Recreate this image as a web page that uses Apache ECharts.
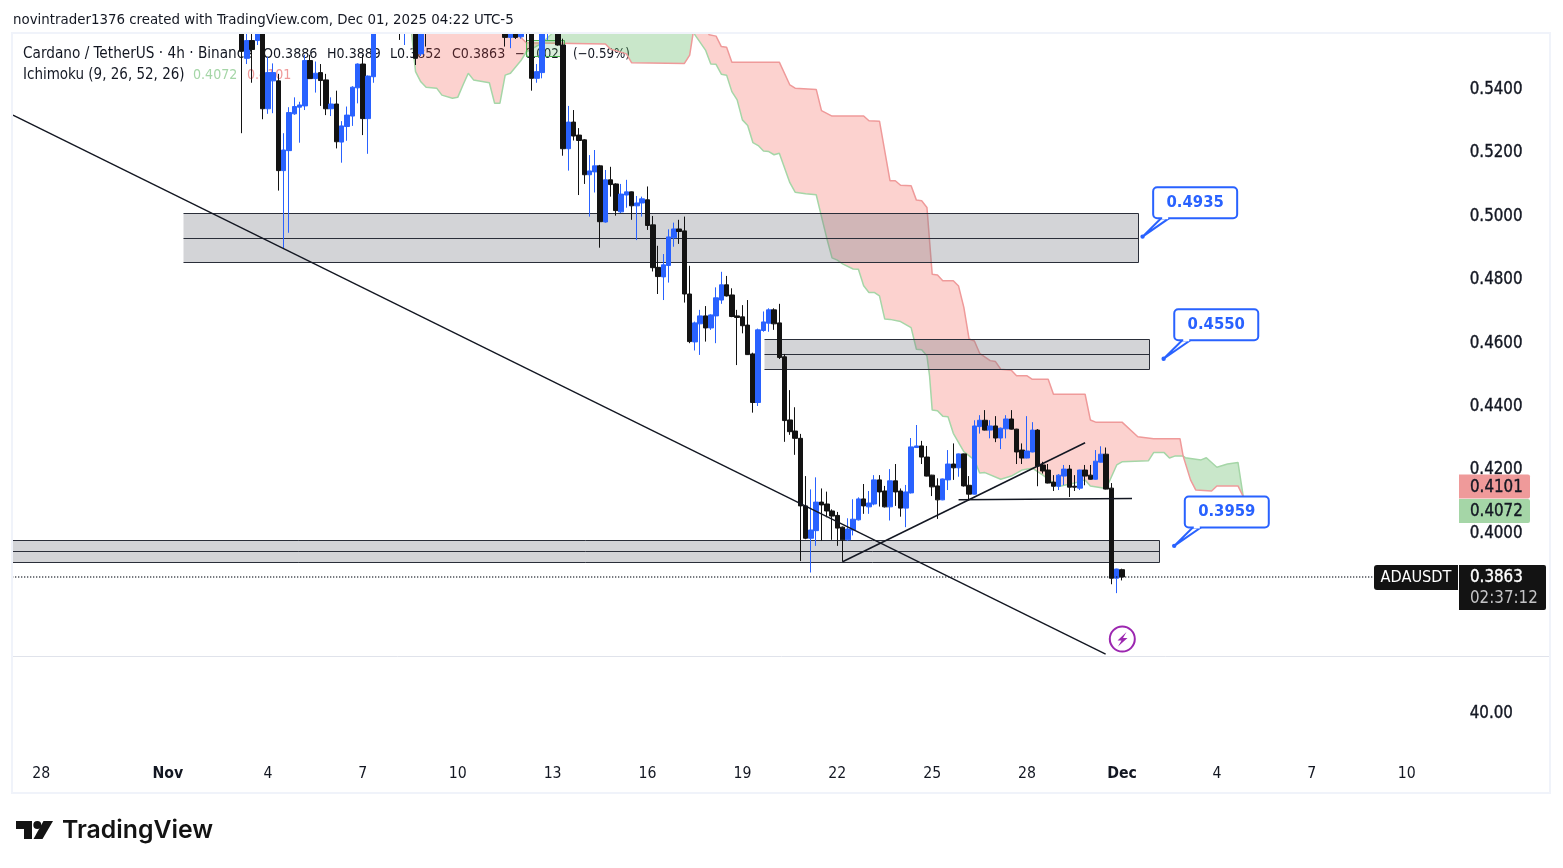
<!DOCTYPE html>
<html><head><meta charset="utf-8">
<style>html,body{margin:0;padding:0;background:#fff}#c{width:1563px;height:868px}</style>
<script src="https://cdn.jsdelivr.net/npm/echarts@6/dist/echarts.min.js"></script></head>
<body><div id="c"></div>
<script>
const firstSlot = 43;
const opens = [.5660,.5498,.5554,.5554,.5640,.5339,.5427,.5427,.5144,.5207,.5323,.5344,.5348,.5491,.5434,.5453,.5430,.5339,.5354,.5234,.5283,.5316,.5405,.5480,.5308,.5440,
.5640,.5720,.5680,.5750,.5700,.5640,.5680,.5700,.5512,.5650,.5610,.5660,.5720,.5680,.5740,.5700,.5650,.5690,.5750,.5710,.5660,.5700,.5650,.5620,.5650,.5564,.5620,.5566,.5600,.5590,.5435,.5453,.5600,.5640,.5610,.5540,
.5213,.5297,.5256,.5241,.5131,.5140,.5159,.4982,.5115,.5102,.5014,.5067,.5077,.5033,.5042,.5052,.4973,.4839,.4809,.4845,.4932,.4960,.4954,.4755,.4604,.4661,.4686,.4648,.4686,.4736,.4784,.4752,.4686,.4683,.4657,.4566,.4413,.4640,.4663,.4705,.4664,.4557,
.4358,.4323,.4300,.4087,.3985,.4009,.4099,.4093,.4071,.4057,.4020,.3980,.4011,.4043,.4109,.4084,.4093,.4169,.4134,.4084,.4166,.4134,.4080,.4128,.4271,.4276,.4241,.4184,.4150,.4106,.4169,.4219,.4207,.4251,
.4152,.4124,.4337,.4357,.4326,.4339,.4301,.4330,.4361,.4329,.4263,.4238,.4257,.4326,.4216,.4200,.4162,.4149,.4181,.4203,.4149,.4143,.4200,.4184,.4171,.4225,.4250,.4143,.3859,.3886];
const closes = [.5520,.5554,.5526,.5640,.5339,.5453,.5453,.5144,.5209,.5327,.5346,.5351,.5491,.5434,.5451,.5428,.5339,.5354,.5235,.5285,.5319,.5407,.5480,.5308,.5442,.5640,
.5720,.5680,.5750,.5700,.5640,.5680,.5700,.5498,.5650,.5610,.5660,.5720,.5680,.5740,.5700,.5650,.5690,.5750,.5710,.5660,.5700,.5650,.5620,.5650,.5564,.5620,.5564,.5600,.5580,.5435,.5456,.5600,.5640,.5610,.5540,.5213,
.5297,.5253,.5239,.5131,.5143,.5159,.4983,.5115,.5100,.5018,.5070,.5077,.5033,.5042,.5055,.4971,.4838,.4810,.4847,.4935,.4960,.4952,.4755,.4605,.4664,.4686,.4648,.4689,.4743,.4784,.4749,.4684,.4681,.4655,.4564,.4413,.4642,.4667,.4705,.4661,.4555,.4356,
.4321,.4300,.4087,.3985,.4011,.4099,.4090,.4071,.4055,.4017,.3980,.4014,.4045,.4109,.4087,.4096,.4169,.4131,.4084,.4166,.4131,.4080,.4131,.4273,.4276,.4241,.4181,.4147,.4106,.4172,.4219,.4207,.4251,.4150,
.4124,.4339,.4357,.4326,.4339,.4301,.4332,.4361,.4329,.4257,.4238,.4260,.4326,.4212,.4197,.4159,.4149,.4184,.4203,.4146,.4146,.4200,.4181,.4171,.4228,.4250,.4140,.3859,.3888,.3863];
const lows = [.5262,.5480,.5421,.5540,.5306,.5323,.5325,.5081,.4899,.4948,.5320,.5232,.5335,.5434,.5390,.5348,.5319,.5316,.5214,.5169,.5238,.5285,.5356,.5256,.5197,.5421,
.5620,.5650,.5660,.5640,.5556,.5540,.5650,.5477,.5505,.5535,.5595,.5640,.5650,.5660,.5670,.5620,.5630,.5670,.5680,.5630,.5640,.5620,.5600,.5595,.5535,.5530,.5559,.5560,.5550,.5396,.5421,.5435,.5556,.5590,.5538,.5191,
.5144,.5239,.5067,.5102,.4999,.5075,.4901,.4980,.5062,.5002,.5010,.5027,.4989,.4925,.4999,.4957,.4826,.4755,.4736,.4791,.4904,.4913,.4728,.4600,.4577,.4563,.4605,.4642,.4600,.4724,.4747,.4682,.4531,.4631,.4563,.4381,.4402,.4636,.4636,.4642,.4550,.4289,
.4311,.4248,.3913,.3982,.3877,.3961,.3977,.4051,.3980,.3961,.3911,.3977,.3994,.4041,.4062,.4062,.4089,.4085,.4082,.4041,.4087,.4053,.4020,.4126,.4270,.4219,.4180,.4118,.4046,.4105,.4137,.4169,.4179,.4148,
.4105,.4123,.4315,.4325,.4300,.4288,.4266,.4300,.4328,.4219,.4219,.4237,.4256,.4149,.4189,.4158,.4134,.4137,.4152,.4115,.4134,.4137,.4152,.4170,.4170,.4224,.4139,.3840,.3812,.3852];
const highs = [.5700,.5590,.5600,.5670,.5680,.5503,.5482,.5449,.5262,.5344,.5375,.5361,.5509,.5509,.5488,.5480,.5449,.5375,.5396,.5300,.5346,.5410,.5482,.5509,.5444,.5680,
.5750,.5760,.5780,.5790,.5720,.5700,.5730,.5720,.5680,.5690,.5690,.5750,.5760,.5780,.5770,.5730,.5720,.5780,.5790,.5730,.5730,.5720,.5680,.5670,.5670,.5640,.5640,.5620,.5620,.5610,.5480,.5630,.5660,.5660,.5640,.5560,
.5348,.5335,.5278,.5243,.5193,.5209,.5162,.5146,.5156,.5104,.5102,.5115,.5078,.5064,.5062,.5094,.5001,.4907,.4881,.4959,.4980,.4989,.4999,.4844,.4668,.4705,.4717,.4691,.4776,.4825,.4812,.4773,.4705,.4720,.4736,.4570,.4646,.4700,.4710,.4710,.4724,.4566,
.4452,.4398,.4314,.4181,.4139,.4177,.4142,.4132,.4076,.4068,.4022,.4048,.4108,.4114,.4156,.4134,.4184,.4184,.4150,.4203,.4219,.4142,.4153,.4301,.4342,.4292,.4276,.4185,.4174,.4173,.4263,.4284,.4252,.4252,
.4181,.4357,.4373,.4389,.4357,.4370,.4334,.4373,.4389,.4330,.4284,.4370,.4351,.4329,.4226,.4219,.4184,.4187,.4216,.4216,.4184,.4201,.4216,.4216,.4263,.4275,.4271,.4159,.3889,.3889];

const spanA = [[75,.5619],[76,.5456],[77,.5424],[78,.5407],[80,.5404],[81,.5382],[83,.5372],[84,.5375],[85,.5414],[86,.5451],[87,.5430],[90,.5421],[91,.5356],[92,.5356],[93,.5445],[94,.5451],[96,.5491],[97,.5518],[100,.5546],[101,.5562],[102,.5578],[103,.5610],[115,.5800],[125,.5760],[128.7,.5585],[129,.5572],[131,.5524],[132,.5480],[133,.5479],[134,.5448],[135,.5445],[136,.5393],[137,.5367],[138,.5304],[139,.5286],[140,.5232],[141,.5223],[142,.5206],[143,.5204],[144,.5194],[145,.5199],[147,.5106],[148,.5076],[150,.5071],[152,.5068],[153,.4999],[154,.4931],[155,.4869],[156,.4862],[157,.4850],[159,.4834],[160,.4833],[161,.4781],[162,.4760],[163,.4760],[164,.4749],[165,.4676],[166,.4675],[168,.4668],[170,.4649],[171,.4581],[172,.4579],[173,.4560],[173.5,.4497],[174,.4389],[175,.4387],[176,.4370],[177,.4368],[178,.4316],[180,.4258],[182,.4232],[183,.4191],[184,.4192],[187,.4171],[189,.4181],[191,.4200],[193,.4206],[195,.4184],[197,.4159],[198,.4148],[201,.4159],[203,.4169],[204,.4150],[207,.4142],[209,.4216],[210,.4226],[215,.4229],[216,.4255],[218,.4255],[219,.4238],[220,.4244],[221.6,.4244],[222,.4239],[225,.4232],[226,.4239],[228,.4209],[230,.4219],[232,.4224],[233,.4116],[235,.4090]];
const spanB = [[75,.5640],[88,.5720],[94,.5640],[95.5,.5572],[97,.5547],[100,.5546],[112,.5543],[113,.5527],[116,.5512],[117,.5484],[127,.5482],[128,.5508],[128.6,.5572],[128.7,.5585],[130,.5640],[131.7,.5572],[133,.5568],[134,.5535],[135,.5533],[136,.5486],[145,.5486],[147,.5414],[148,.5404],[152,.5400],[153,.5333],[155,.5316],[161,.5316],[162,.5301],[164,.5300],[166,.5112],[167,.5112],[168,.5098],[170,.5096],[171,.5051],[172,.5049],[173,.5028],[174,.4817],[175,.4815],[176,.4797],[178,.4797],[179,.4780],[180,.4713],[181,.4613],[182,.4607],[183,.4568],[185,.4545],[186,.4542],[187,.4518],[189,.4515],[190,.4497],[192,.4497],[193,.4486],[196,.4486],[197,.4439],[203,.4439],[204,.4358],[205,.4351],[210,.4351],[213,.4305],[216,.4299],[221,.4299],[221.6,.4244],[223,.4169],[224,.4137],[227,.4134],[228,.4150],[232,.4150],[233,.4116],[235,.4090]];
const cloudPatches = [[75,100],[100,128.7],[128.7,221.6],[221.6,235]];
const cloudFills = ['rgba(244,67,54,0.24)','rgba(76,175,80,0.3)','rgba(244,67,54,0.24)','rgba(76,175,80,0.3)'];

// slot start, slot end, top, middle, bottom price
const zones = [[31.9,213,.5009,.4930,.4854],[142,215,.4612,.4565,.4518],[-2,217,.3979,.3944,.3909]];
const rangeBox = [[97,104.2,.5557,.5508]];
const trend1 = [[-0.36,.5319],[206.9,.3620]];
const trend2 = [[157,.3911],[203,.4286]];
const trend3 = [[179,.4106],[211.9,.4110]];
const lastPrice = 0.3863;
const calloutSlots = [213.9,217.9,219.9];
const calloutPrices = [.4936,.4551,.3961];
const calloutLabels = ['0.4935','0.4550','0.3959'];

const slotCount = 274;
const tickSlots = [5,29,48,66,84,102,120,138,156,174,192,210,228,246,264];
const tickLabels = ['28','Nov','4','7','10','13','16','19','22','25','28','Dec','4','7','10'];
const priceTicks = [.40,.42,.44,.46,.48,.50,.52,.54];
const lowerPaneTicks = [40];
const tagPrices = [.4101,.4072];
const tagFills = ['#ef9a9a','#a5d6a7'];

const FONT = '"DejaVu Sans Condensed","DejaVu Sans",sans-serif';
const BLUE = '#2962ff', BLACK = '#131313', INK = '#131722';
const slotLabels = Array.from({length:slotCount},()=> '');
tickSlots.forEach((s,i)=>{slotLabels[s]=tickLabels[i]});
const tickSet = new Set(tickSlots);
const candles = opens.map((o,i)=>[firstSlot+i,o,closes[i],lows[i],highs[i]]);

const chart = echarts.init(document.getElementById('c'),null,{renderer:'canvas'});
const G = {left:12.24,width:1444.53};
function txt(x,y,text,fill,font,z,align){return {type:'text',silent:true,z:z==null?0:z,style:{x,y,text,fill,font:font,align:align||'left',verticalAlign:'middle'}}}
function heavy(x,y,text,fill,z){const t=txt(x,y,text,fill,'16.8px '+FONT,z);t.style.stroke=fill;t.style.lineWidth=0.35;return t}
const NAME='15.2px '+FONT, NAME2='15px '+FONT, NUM='14.1px '+FONT, CHG='13.2px '+FONT;
const axisText={color:INK,fontFamily:FONT,fontSize:16.8,margin:13,align:'left',padding:[4,0,0,0],textBorderColor:INK,textBorderWidth:0.35};
chart.setOption({
 animation:false,
 backgroundColor:'#fff',
 grid:[{left:G.left,width:G.width,top:34,height:622},{left:G.left,width:G.width,top:657,height:100}],
 xAxis:[
  {type:'category',gridIndex:0,data:slotLabels,show:false},
  {type:'value',gridIndex:0,min:-0.5,max:slotCount-0.5,show:false},
  {type:'category',gridIndex:1,data:slotLabels,axisLine:{show:false},axisTick:{show:false},splitLine:{show:false},
   axisLabel:{interval:(i)=>tickSet.has(i),color:INK,fontFamily:FONT,fontSize:15.7,margin:9,hideOverlap:false,
    formatter:(v)=>/[A-Za-z]/.test(v)?'{m|'+v+'}':v,
    rich:{m:{fontWeight:'bold',fontFamily:FONT,fontSize:15.7,color:INK}}}}
 ],
 yAxis:[
  {type:'value',gridIndex:0,position:'right',min:.36138,max:.55747,scale:true,axisLine:{show:false},axisTick:{show:false},splitLine:{show:false},
   axisLabel:Object.assign({customValues:priceTicks,formatter:(v)=>v.toFixed(4)},axisText)},
  {type:'value',gridIndex:1,position:'right',min:0,max:92,axisLine:{show:false},axisTick:{show:false},splitLine:{show:false},
   axisLabel:Object.assign({customValues:lowerPaneTicks,formatter:(v)=>v.toFixed(2)},axisText)}
 ],
 series:[
  {type:'custom',name:'Cloud',xAxisIndex:1,yAxisIndex:0,z:1,clip:true,silent:true,data:cloudPatches,encode:{x:[0,1]},
   renderItem:(p,api)=>{const a=api.value(0),b=api.value(1);
     const pts=spanA.filter(d=>d[0]>=a&&d[0]<=b).concat(spanB.filter(d=>d[0]>=a&&d[0]<=b).reverse()).map(d=>api.coord(d));
     return {type:'polygon',shape:{points:pts},style:{fill:cloudFills[p.dataIndex]}}}},
  {type:'line',name:'Lead 1',xAxisIndex:1,yAxisIndex:0,z:1,data:spanA,symbol:'none',silent:true,lineStyle:{color:'#a5d6a7',width:1.5}},
  {type:'line',name:'Lead 2',xAxisIndex:1,yAxisIndex:0,z:1,data:spanB,symbol:'none',silent:true,lineStyle:{color:'#ef9a9a',width:1.5}},
  {type:'custom',name:'Zones',xAxisIndex:1,yAxisIndex:0,z:2,clip:true,silent:true,data:zones,encode:{x:[0,1],y:[2,3,4]},
   renderItem:(p,api)=>{const a=api.coord([api.value(0),api.value(2)]),b=api.coord([api.value(1),api.value(4)]),m=api.coord([api.value(0),api.value(3)]);
     const X=Math.round(a[0])+.5,Y=Math.round(a[1])+.5,W=Math.round(b[0]-a[0]),H=Math.round(b[1]-a[1]),M=Math.round(m[1])+.5;
     const ln=(x1,y1,x2,y2)=>({type:'line',shape:{x1,y1,x2,y2},style:{stroke:'#2a2e39',lineWidth:1}});
     return {type:'group',children:[
      {type:'rect',shape:{x:X,y:Y,width:W,height:H},style:{fill:'rgba(120,123,134,0.33)'}},
      ln(X,Y,X+W,Y),ln(X,M,X+W,M),ln(X,Y+H,X+W,Y+H),ln(X+W,Y,X+W,Y+H)]}}},
  {type:'custom',name:'Range',xAxisIndex:1,yAxisIndex:0,z:2,clip:true,silent:true,data:rangeBox,encode:{x:[0,1],y:[2,3]},
   renderItem:(p,api)=>{const a=api.coord([api.value(0),api.value(2)]),b=api.coord([api.value(1),api.value(3)]);
     return {type:'rect',shape:{x:Math.round(a[0])+.5,y:Math.round(a[1])+.5,width:Math.round(b[0]-a[0]),height:Math.round(b[1]-a[1])},style:{fill:'rgba(76,175,80,0.2)',stroke:'#4caf50',lineWidth:1}}}},
  {type:'candlestick',name:'ADAUSDT',xAxisIndex:0,yAxisIndex:0,z:5,barWidth:5,silent:true,
   data:candles,encode:{x:0,y:[1,2,3,4]},
   itemStyle:{color:BLUE,color0:BLACK,borderColor:BLUE,borderColor0:BLACK,borderWidth:1}},
  {type:'line',name:'Last',xAxisIndex:1,yAxisIndex:0,z:6,data:[[-0.5,lastPrice],[slotCount-0.5,lastPrice]],symbol:'none',silent:true,lineStyle:{color:'#131722',width:1.5,type:[1,2]}},
  {type:'line',name:'Trend 1',xAxisIndex:1,yAxisIndex:0,z:6,data:trend1,symbol:'none',silent:true,lineStyle:{color:'#131722',width:1.4}},
  {type:'line',name:'Trend 2',xAxisIndex:1,yAxisIndex:0,z:6,data:trend2,symbol:'none',silent:true,lineStyle:{color:'#131722',width:1.5}},
  {type:'line',name:'Trend 3',xAxisIndex:1,yAxisIndex:0,z:6,data:trend3,symbol:'none',silent:true,lineStyle:{color:'#131722',width:1.5}},
  {type:'custom',name:'Callouts',xAxisIndex:1,yAxisIndex:0,z:8,silent:true,data:calloutSlots.map((s,i)=>[s,calloutPrices[i]]),encode:{x:0,y:1},
   renderItem:(p,api)=>{const c=api.coord([api.value(0),api.value(1)]);const x=c[0]+10.6,y=c[1]-49.4,w=84,h=31;
     return {type:'group',children:[
      {type:'polygon',shape:{points:[[x+8,y+h],[c[0],c[1]],[x+16,y+h]]},style:{fill:'#fff',stroke:BLUE,lineWidth:2}},
      {type:'circle',shape:{cx:c[0],cy:c[1],r:2.2},style:{fill:BLUE}},
      {type:'rect',shape:{x,y,width:w,height:h,r:4},style:{fill:'#fff',stroke:BLUE,lineWidth:2}},
      {type:'rect',shape:{x:x+9,y:y+h-2,width:6,height:3},style:{fill:'#fff'}},
      {type:'text',style:{x:x+w/2,y:y+h/2,text:calloutLabels[p.dataIndex],fill:BLUE,font:'bold 16.5px '+FONT,align:'center',verticalAlign:'middle'}}]}}},
  {type:'custom',name:'Price tags',xAxisIndex:1,yAxisIndex:0,z:9,silent:true,data:tagPrices.map(v=>[270,v]),encode:{y:1},
   renderItem:(p,api)=>{const cy=p.dataIndex===0?486.5:511;
     return {type:'group',children:[
      {type:'rect',shape:{x:1459,y:cy-12,width:71,height:24,r:[0,2,2,0]},style:{fill:tagFills[p.dataIndex]}},
      {type:'text',style:{x:1470,y:cy+1,text:api.value(1).toFixed(4),fill:INK,stroke:INK,lineWidth:0.35,font:'16.8px '+FONT,align:'left',verticalAlign:'middle'}}]}}}
 ],
 graphic:{elements:[
  {type:'rect',silent:true,z:7,shape:{x:0,y:0,width:1563,height:33},style:{fill:'#fff'}},
  txt(13,20,'novintrader1376 created with TradingView.com, Dec 01, 2025 04:22 UTC-5',INK,'14.87px '+FONT,8),
  {type:'rect',silent:true,z:8,shape:{x:12,y:33,width:1538,height:760},style:{fill:'none',stroke:'#f0f3fa',lineWidth:2}},
  {type:'line',silent:true,z:0,shape:{x1:13,y1:656.5,x2:1550,y2:656.5},style:{stroke:'#e0e3eb',lineWidth:1}},
  txt(23,54.5,'Cardano / TetherUS · 4h · Binance',INK,NAME),
  txt(263,54.5,'O0.3886',INK,NUM),txt(327,54.5,'H0.3889',INK,NUM),txt(390,54.5,'L0.3852',INK,NUM),txt(452,54.5,'C0.3863',INK,NUM),
  txt(515,54.5,'−0.0023',INK,CHG),txt(573,54.5,'(−0.59%)',INK,CHG),
  txt(23,75.5,'Ichimoku (9, 26, 52, 26)',INK,NAME2),txt(193,75.5,'0.4072','#a5d6a7',NUM),txt(247,75.5,'0.4101','#ef9a9a',NUM),
  {type:'rect',silent:true,z:30,shape:{x:1374,y:565,width:84,height:25,r:[3,0,0,3]},style:{fill:BLACK}},
  txt(1416,577.5,'ADAUSDT','#fff','16.2px '+FONT,31,'center'),
  {type:'rect',silent:true,z:30,shape:{x:1459,y:565,width:87,height:45,r:[0,2,2,0]},style:{fill:BLACK}},
  heavy(1470,578,'0.3863','#fff',31),
  txt(1470,598.5,'02:37:12','#c4c4c6','16.8px '+FONT,31),
  {type:'circle',silent:true,z:8,shape:{cx:1122.3,cy:639,r:12.5},style:{fill:'#fff',stroke:'#9c27b0',lineWidth:2}},
  {type:'polygon',silent:true,z:9,shape:{points:[[1126.5,632],[1117.5,640.5],[1121.5,640.5],[1118,646.5],[1127.5,638],[1123,638]]},style:{fill:'#9c27b0'}},
  {type:'polygon',silent:true,z:0,shape:{points:[[16,821],[32,821],[32,839],[24,839],[24,829],[16,829]]},style:{fill:BLACK}},
  {type:'circle',silent:true,z:0,shape:{cx:37.3,cy:825,r:4},style:{fill:BLACK}},
  {type:'polygon',silent:true,z:0,shape:{points:[[43.5,821],[53,821],[42.5,839],[33.5,839]]},style:{fill:BLACK}},
  txt(62,831,'TradingView',BLACK,'600 24.8px Inter,"Noto Sans",sans-serif')
 ]}
});
</script></body></html>
